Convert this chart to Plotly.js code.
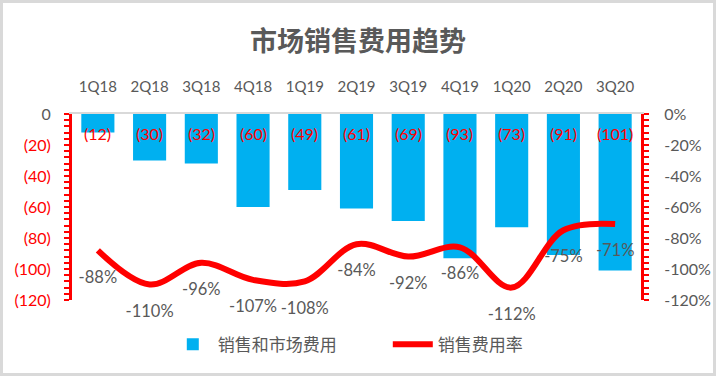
<!DOCTYPE html>
<html>
<head>
<meta charset="utf-8">
<script src="https://cdn.plot.ly/plotly-3.0.1.min.js"></script>
<style>
  html, body { margin:0; padding:0; background:#fff; }
  #wrap { position:relative; width:716px; height:376px; }
  #chart { width:716px; height:376px; }
  #frame { position:absolute; left:0; top:0; width:716px; height:376px; box-sizing:border-box; border:3px solid #d9d9d9; pointer-events:none; }
</style>
</head>
<body>
<div id="wrap"><div id="chart"></div><div id="frame"></div></div>
<script>
var categories = ['1Q18','2Q18','3Q18','4Q18','1Q19','2Q19','3Q19','4Q19','1Q20','2Q20','3Q20'];
var expense = [-12, -30, -32, -60, -49, -61, -69, -93, -73, -91, -101];
var expenseLabels = ['(12)','(30)','(32)','(60)','(49)','(61)','(69)','(93)','(73)','(91)','(101)'];
var rate = [-0.88, -1.10, -0.96, -1.07, -1.08, -0.84, -0.92, -0.86, -1.12, -0.75, -0.71];
var rateLabels = ['-88%','-110%','-96%','-107%','-108%','-84%','-92%','-86%','-112%','-75%','-71%'];
var leftTickVals = [0, -20, -40, -60, -80, -100, -120];
var leftTickText = ['<span style="color:#595959">0</span>','(20)','(40)','(60)','(80)','(100)','(120)'];
var rightTickVals = [0, -0.2, -0.4, -0.6, -0.8, -1.0, -1.2];
var rightTickText = ['0%','-20%','-40%','-60%','-80%','-100%','-120%'];

var FONT = "Lato, 'Noto Sans CJK SC', sans-serif";
var GRAY = '#595959';

var traces = [
  {
    type:'bar', name:'销售和市场费用', x:categories, y:expense,
    marker:{color:'#00B0F0'}, xaxis:'x', yaxis:'y', hoverinfo:'skip'
  },
  {
    type:'scatter', mode:'lines+markers+text', name:'销售费用率', x:categories, y:rate,
    xaxis:'x', yaxis:'y2', cliponaxis:false,
    line:{color:'#FF0000', width:6, shape:'spline', smoothing:1},
    marker:{size:30, color:'rgba(0,0,0,0)'},
    text:rateLabels, textposition:'bottom center',
    textfont:{size:16.5, color:GRAY, family:FONT}, hoverinfo:'skip'
  }
];

var annotations = categories.map(function(c, i){
  return {x:c, y:0, xref:'x', yref:'y', text:expenseLabels[i], showarrow:false,
          yanchor:'top', yshift:-8, font:{size:16, color:'#FF0000', family:FONT}};
});

var layout = {
  width:716, height:376,
  margin:{l:72, r:75, t:114, b:76},
  paper_bgcolor:'rgba(0,0,0,0)', plot_bgcolor:'rgba(0,0,0,0)',
  font:{family:FONT, color:GRAY},
  title:{text:'<b>市场销售费用趋势</b>', x:0.5, xanchor:'center', y:1-42/376, yanchor:'middle', yref:'container',
         font:{size:27, color:GRAY, family:"'Noto Sans CJK SC', sans-serif", weight:900}},
  bargap:0.36,
  showlegend:true,
  legend:{orientation:'h', x:0.555, xanchor:'center', y:-0.24, yanchor:'middle', itemwidth:40,
          entrywidth:165, font:{size:17, color:GRAY, family:"'Noto Sans CJK SC', sans-serif"}},
  xaxis:{type:'category', side:'top', showline:true, linecolor:'#d9d9d9', linewidth:2,
         ticks:'', showgrid:false, zeroline:false, tickfont:{size:15, color:GRAY}, ticklabelstandoff:14,
         range:[-0.5, 10.5]},
  yaxis:{range:[-120, 0], tickvals:leftTickVals, ticktext:leftTickText, showgrid:false, zeroline:false,
         showline:true, linecolor:'#FF0000', linewidth:3, ticks:'outside', ticklen:5, tickwidth:2, tickcolor:'#FF0000',
         minor:{dtick:4, ticks:'outside', ticklen:5, tickwidth:2, tickcolor:'#FF0000', showgrid:false},
         tickfont:{size:16, color:'#FF0000'}, ticklabelstandoff:10},
  yaxis2:{range:[-1.2, 0], overlaying:'y', side:'right', anchor:'x', tickvals:rightTickVals, ticktext:rightTickText,
          showgrid:false, zeroline:false, showline:true, linecolor:'#FF0000', linewidth:3,
          ticks:'outside', ticklen:5, tickwidth:2, tickcolor:'#FF0000',
          minor:{dtick:0.04, ticks:'outside', ticklen:5, tickwidth:2, tickcolor:'#FF0000', showgrid:false},
          tickfont:{size:16, color:GRAY}, ticklabelstandoff:12},
  annotations:annotations
};

Plotly.newPlot('chart', traces, layout, {staticPlot:true});
</script>
</body>
</html>
